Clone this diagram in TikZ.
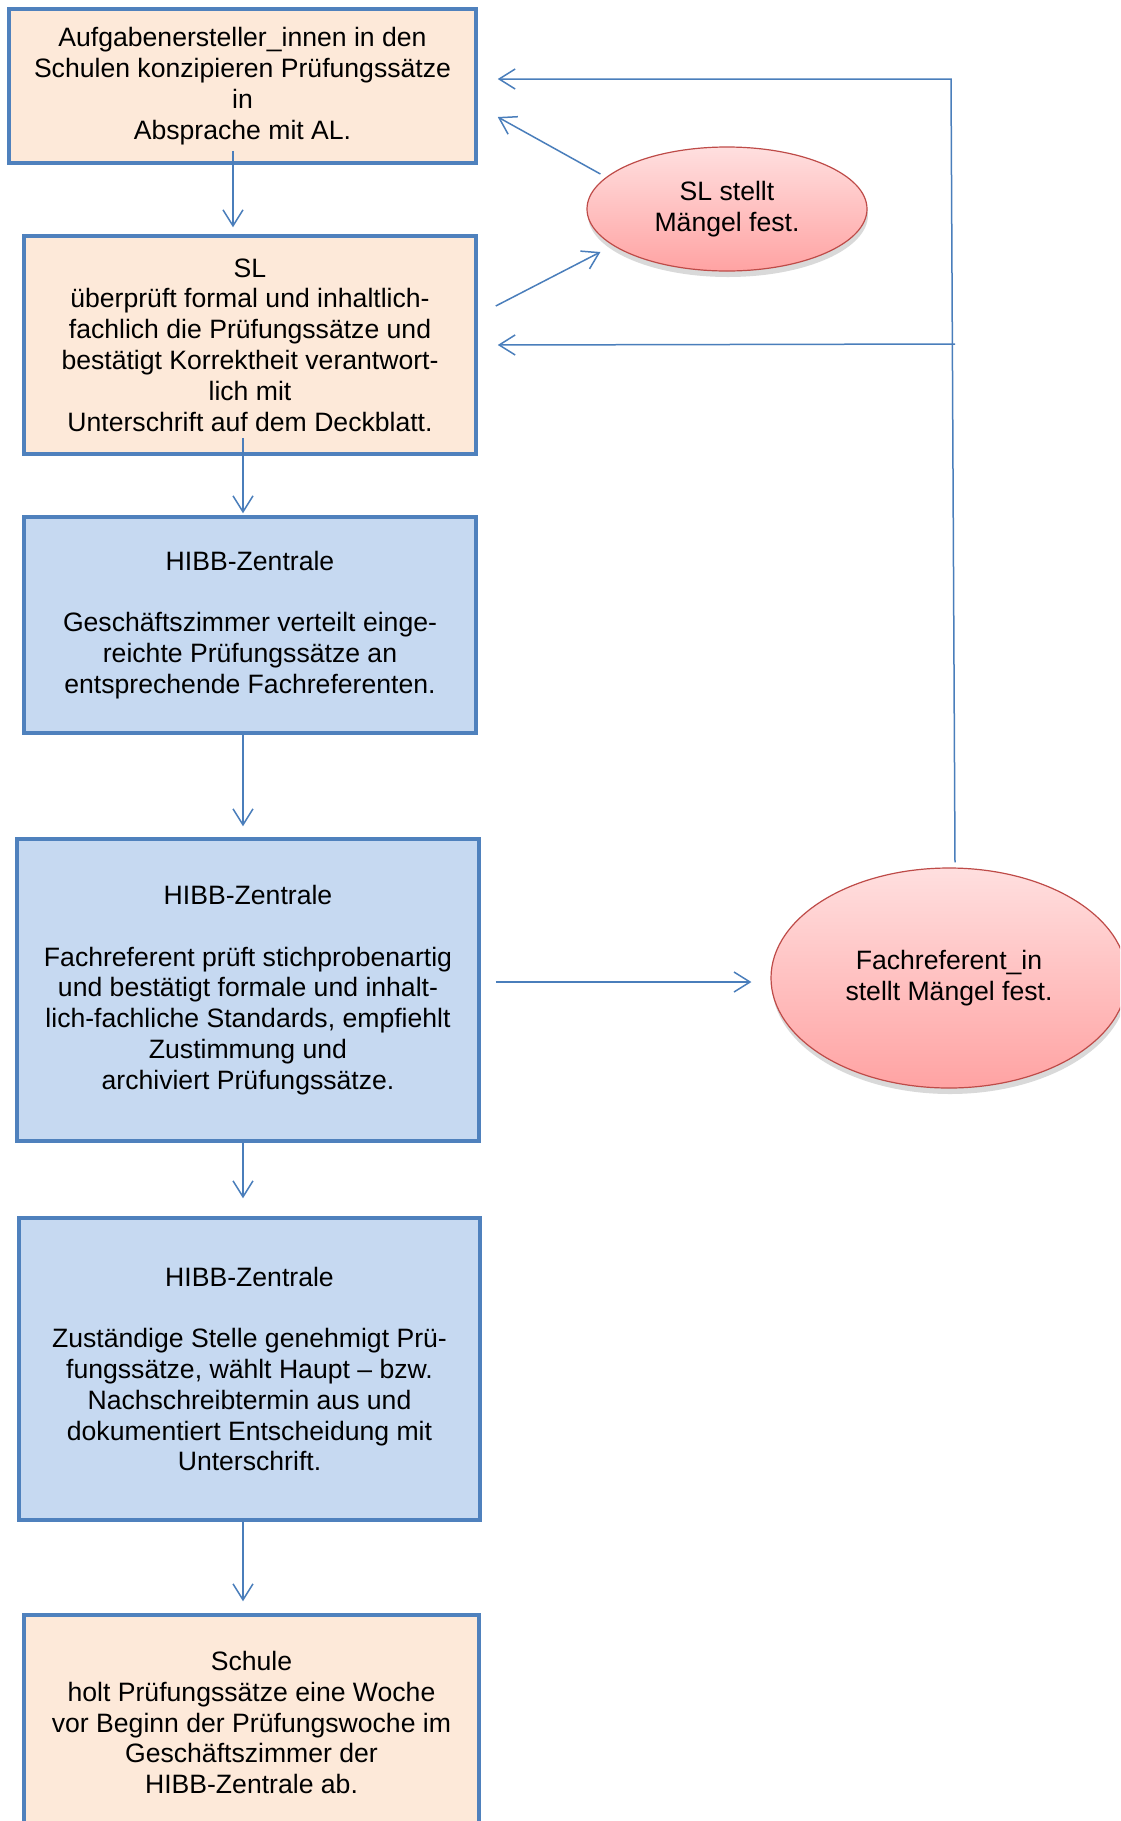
\documentclass[tikz,border=0pt]{standalone}
\usepackage{fontspec}
\setmainfont{Liberation Sans}
\usepackage{tikz}
\usetikzlibrary{arrows.meta, shapes.geometric, shadows}

\definecolor{boxline}{HTML}{4F81BD}
\definecolor{linkblue}{HTML}{4A7EBB}
\definecolor{peach}{HTML}{FDE9D9}
\definecolor{paleblue}{HTML}{C6D9F1}
\definecolor{redline}{HTML}{BE4B48}
\definecolor{pinktop}{HTML}{FFDFDF}
\definecolor{pinkbottom}{HTML}{FFA3A3}

\tikzset{
  stepbox/.style={draw=boxline, line width=1.75pt, align=center, inner sep=0pt,
    font=\fontsize{13.3}{15.4}\selectfont},
  schoolbox/.style={stepbox, fill=peach},
  hibbbox/.style={stepbox, fill=paleblue},
  fault/.style={ellipse, draw=redline, line width=0.6pt, align=center, inner sep=0pt,
    top color=pinktop, bottom color=pinkbottom,
    drop shadow={shadow xshift=0.5pt, shadow yshift=-3pt, opacity=0.25, fill=black!60},
    font=\fontsize{13.3}{15.4}\selectfont},
  link/.style={draw=linkblue, line width=0.75pt, -{Straight Barb[length=8pt, width=10pt]}}
}

\begin{document}
\begin{tikzpicture}[x=0.5pt, y=-0.5pt]
\useasboundingbox (0,0) rectangle (1120,1821);
\clip (0,0) rectangle (1120,1821);

% boxes on the left
\node[schoolbox, minimum width=233.5pt, minimum height=77pt] (konzept) at (242.5,86)
  {Aufgabenersteller\_innen in den\\Schulen konzipieren Prüfungssätze\\in\\Absprache mit AL.};
\node[schoolbox, minimum width=226pt, minimum height=109pt] (pruefung) at (250,345)
  {SL\\überprüft formal und inhaltlich-\\fachlich die Prüfungssätze und\\bestätigt Korrektheit verantwort-\\lich mit\\Unterschrift auf dem Deckblatt.};
\node[hibbbox, minimum width=226pt, minimum height=108pt] (verteilung) at (250,625)
  {HIBB-Zentrale\\[\baselineskip]Geschäftszimmer verteilt einge-\\reichte Prüfungssätze an\\entsprechende Fachreferenten.};
\node[hibbbox, minimum width=231pt, minimum height=151pt] (fachref) at (248,990)
  {HIBB-Zentrale\\[\baselineskip]Fachreferent prüft stichprobenartig\\und bestätigt formale und inhalt-\\lich-fachliche Standards, empfiehlt\\Zustimmung und\\archiviert Prüfungssätze.};
\node[hibbbox, minimum width=230.5pt, minimum height=151pt] (genehmigung) at (249.5,1369)
  {HIBB-Zentrale\\[\baselineskip]Zuständige Stelle genehmigt Prü-\\fungssätze, wählt Haupt -- bzw.\\Nachschreibtermin aus und\\dokumentiert Entscheidung mit\\Unterschrift.};
\node[schoolbox, minimum width=227.5pt, minimum height=107.5pt] (abholung) at (251.5,1722.5)
  {Schule\\holt Prüfungssätze eine Woche\\vor Beginn der Prüfungswoche im\\Geschäftszimmer der\\HIBB-Zentrale ab.};

% faults
\node[fault, minimum width=140pt, minimum height=62pt] (slmangel) at (727,209)
  {SL stellt\\Mängel fest.};
\node[fault, minimum width=178pt, minimum height=110pt] (frmangel) at (949,978)
  {Fachreferent\_in\\stellt Mängel fest.};

% main flow
\draw[link] ([xshift=-4.75pt,yshift=7pt]konzept.south) -- ([xshift=-8.5pt,yshift=3.5pt]pruefung.north);
\draw[link] ([xshift=-3.5pt,yshift=9pt]pruefung.south) -- ([xshift=-3.5pt,yshift=1pt]verteilung.north);
\draw[link] ([xshift=-3.5pt]verteilung.south) -- ([xshift=-2.5pt,yshift=5.5pt]fachref.north);
\draw[link] ([xshift=-2.5pt]fachref.south) -- ([xshift=-3.25pt,yshift=9pt]genehmigung.north);
\draw[link] ([xshift=-3.25pt]genehmigung.south) -- ([xshift=-4.25pt,yshift=6pt]abholung.north);

% loops back
\draw[link] ([xshift=9pt,yshift=19.5pt]pruefung.east) -- ([xshift=7pt,yshift=-21.5pt]slmangel.west);
\draw[link] ([xshift=7pt,yshift=17.5pt]slmangel.west) -- ([xshift=10pt,yshift=-15.5pt]konzept.east);
\draw[link] ([xshift=7.5pt,yshift=4pt]fachref.east) -- ([xshift=-9.5pt,yshift=-2pt]frmangel.west);
\coordinate (turn) at (951,79);
\coordinate (branch) at (953,344);
\draw[link] ([xshift=3pt,yshift=2.5pt]frmangel.north) -- (turn) -- ([xshift=10pt,yshift=3.5pt]konzept.east);
\draw[link] ([xshift=1pt]branch) -- ([xshift=10pt]pruefung.east);
\end{tikzpicture}
\end{document}
